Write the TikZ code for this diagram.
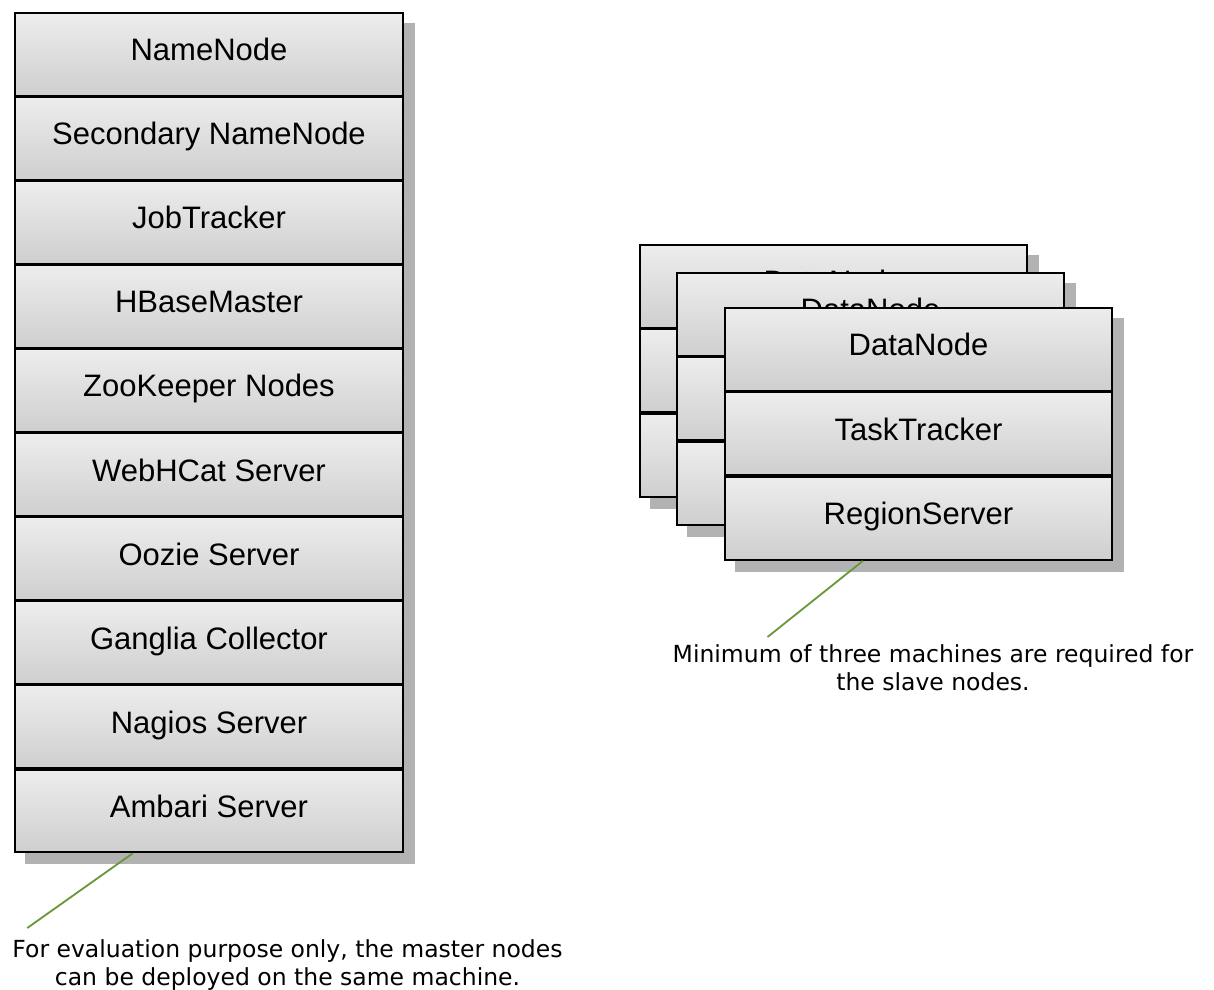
\documentclass[tikz,border=0pt]{standalone}
\usepackage{fontspec}
\setmainfont{Liberation Sans}
\newfontfamily\notefont{DejaVu Sans}
\usepackage{tikz}
\usetikzlibrary{calc}
\usetikzlibrary{backgrounds}
\definecolor{notegreen}{RGB}{104,150,56}
\tikzset{
    rolebox/.style={draw=black, line width=2pt, top color=black!7, bottom color=black!19,
        minimum width=388pt, minimum height=82.9pt, inner sep=0pt, text height=22pt, text depth=9pt,
        font=\fontsize{31}{36}\selectfont},
    boxshadow/.style={fill=black!30},
    notetext/.style={font=\notefont\fontsize{23.5}{28}\selectfont, align=center, inner sep=0pt, anchor=north},
    noteline/.style={draw=notegreen, line width=1.8pt}
}
\newcommand{\slavestack}[4]{\foreach \lbl [count=\j] in {#4} \node[rolebox, minimum width=387pt, minimum height=83.3pt] (#1r\j) at (#2, {#3+84.5*(\j-0.5)}) {\lbl};}

\begin{document}
\begin{tikzpicture}[x=1pt, y=-1pt]
        \useasboundingbox (0,0) rectangle (1214,989);
        \foreach \lbl [count=\i] in {NameNode, Secondary NameNode, JobTracker, HBaseMaster, ZooKeeper Nodes, WebHCat Server, Oozie Server, Ganglia Collector, Nagios Server, Ambari Server}
            \node[rolebox] (m\i) at (209, {12+84.1*(\i-0.5)}) {\lbl};
        \slavestack{s1}{833.5}{244}{DataNode, {}, {}}
        \slavestack{s2}{870.5}{272}{DataNode, {}, {}}
        \slavestack{s3}{918.5}{307}{DataNode, TaskTracker, RegionServer}
        \begin{scope}[on background layer]
            \fill[boxshadow] ([shift={(11,11)}]m1.north west) rectangle ([shift={(11,11)}]m10.south east);
            \foreach \s in {s1, s2, s3}
                \fill[boxshadow] ([shift={(11,11)}]\s r1.north west) rectangle ([shift={(11,11)}]\s r3.south east);
        \end{scope}
        \node[notetext] (masternote) at (287.5, 939) {For evaluation purpose only, the master nodes\\can be deployed on the same machine.};
        \node[notetext] (slavenote) at (933, 644) {Minimum of three machines are required for\\the slave nodes.};
        \draw[noteline] ($(m10.south west)!0.304!(m10.south east)$) -- ([shift={(15,-11)}]masternote.north west);
        \draw[noteline] ($(s3r3.south west)!0.357!(s3r3.south east)$) -- ([shift={(95,-7)}]slavenote.north west);
    \end{tikzpicture}
\end{document}
